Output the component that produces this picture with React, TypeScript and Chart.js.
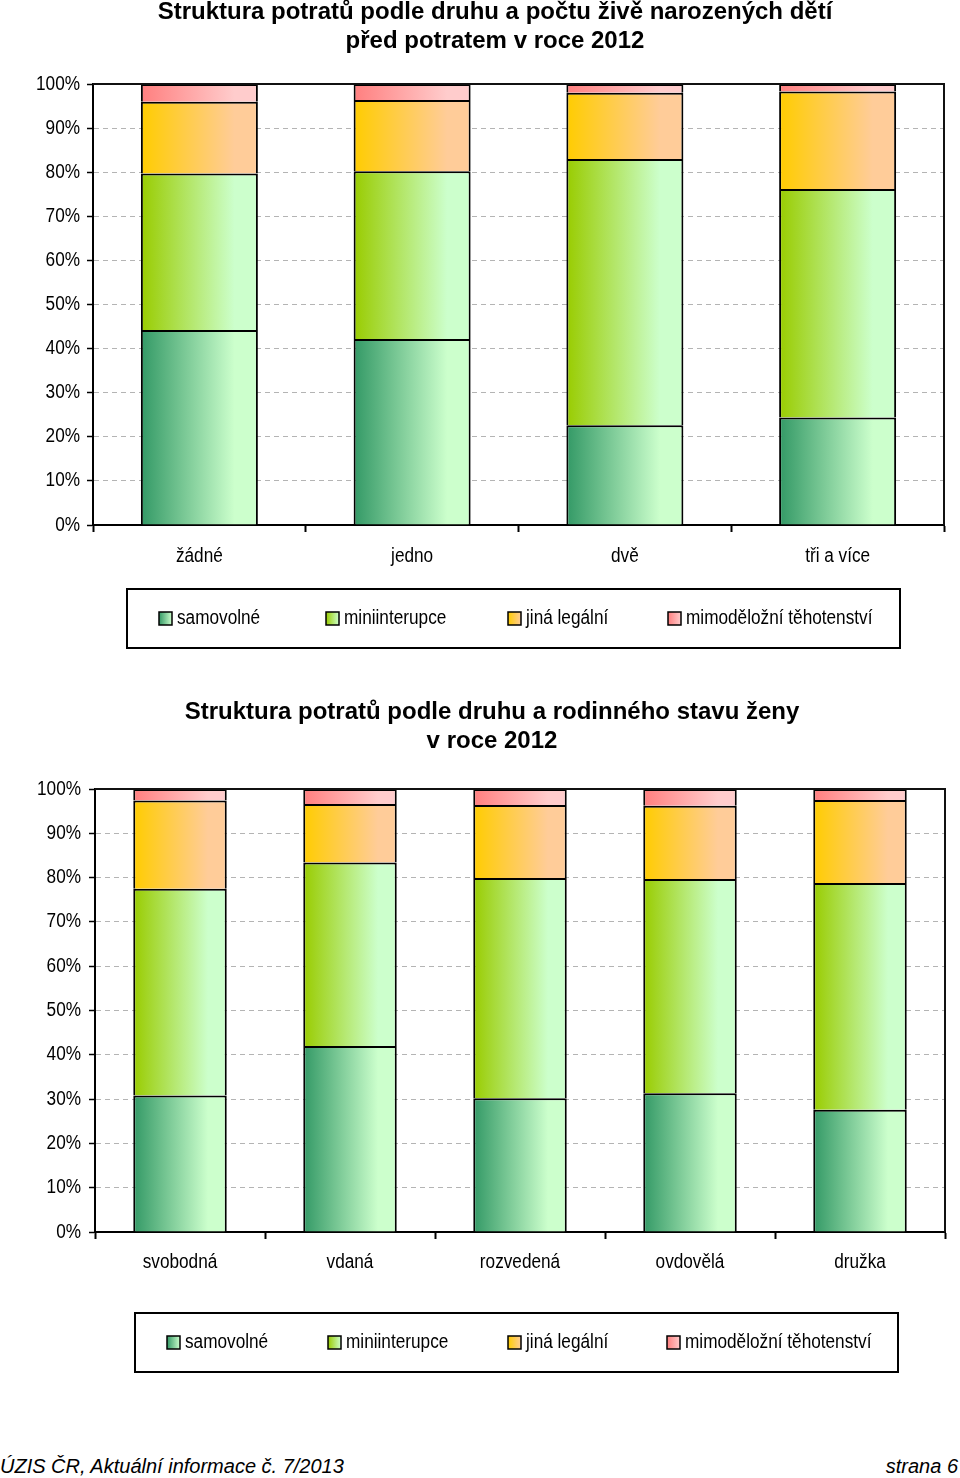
import React, { useEffect, useRef } from 'react';
import { Chart, registerables } from 'chart.js';

Chart.register(...registerables);

const FONT = '"Liberation Sans", Arial, Helvetica, sans-serif';
const LABEL_SIZE = 20;
const NARROW_X = 0.86; // horizontal condensing of label text (Arial Narrow look)

const seriesNames = ['samovolné', 'miniinterupce', 'jiná legální', 'mimoděložní těhotenství'];
const gradientPairs: string[][] = [
  ['#339966', '#ccffcc'],
  ['#99cc00', '#ccffcc'],
  ['#ffcc00', '#ffcc99'],
  ['#ff7f7f', '#ffcccc'],
];

// Chart 1: by number of live-born children
const categories1 = ['žádné', 'jedno', 'dvě', 'tři a více'];
const samovolne1 = [44.2, 42.2, 22.6, 24.4];
const miniinterupce1 = [35.5, 38.0, 60.4, 51.8];
const jinaLegalni1 = [16.3, 16.2, 15.0, 22.1];
const mimodelozni1 = [4.0, 3.6, 2.0, 1.7];

// Chart 2: by marital status
const categories2 = ['svobodná', 'vdaná', 'rozvedená', 'ovdovělá', 'družka'];
const samovolne2 = [30.8, 42.0, 30.2, 31.3, 27.6];
const miniinterupce2 = [46.7, 41.4, 49.7, 48.4, 51.2];
const jinaLegalni2 = [19.9, 13.2, 16.5, 16.5, 18.7];
const mimodelozni2 = [2.6, 3.4, 3.6, 3.8, 2.5];

const yTicks = [0, 10, 20, 30, 40, 50, 60, 70, 80, 90, 100];

const BAR_PCT = 0.55;

function barGradient(pair: string[]) {
  return (ctx: any) => {
    const chart = ctx.chart;
    const xs = chart.scales && chart.scales.x;
    if (!xs || ctx.type !== 'data') return pair[1];
    const n = chart.data.labels.length;
    const center = xs.getPixelForValue(ctx.dataIndex);
    const w = (xs.width / n) * BAR_PCT;
    const x0 = center - w / 2;
    const x1 = center + w / 2;
    if (!Number.isFinite(x0) || !Number.isFinite(x1) || !(w > 0)) return pair[1];
    const g = chart.ctx.createLinearGradient(x0, 0, x1, 0);
    g.addColorStop(0, pair[0]);
    g.addColorStop(0.8, pair[1]);
    g.addColorStop(1, pair[1]);
    return g;
  };
}

type Cfg = {
  height: number;
  labels: string[];
  values: number[][];
  titleLines: string[];
  titleX: number;
  titleY: number[];
  plotTop: number;
  padBottom: number;
  padRight: number;
  yWidth: number;
  yLabelGap: number;
  xLabelGap: number;
  legendBox: number[];
  legendX: number[];
};

function narrowText(c: CanvasRenderingContext2D, text: string, x: number, y: number, align: CanvasTextAlign) {
  c.save();
  c.translate(x, y);
  c.scale(NARROW_X, 1);
  c.textAlign = align;
  c.fillText(text, 0, 0);
  c.restore();
}

function makeDecor(cfg: Cfg) {
  return {
    id: 'decor',
    afterDraw(chart: any) {
      const c = chart.ctx as CanvasRenderingContext2D;
      const a = chart.chartArea;
      const xs = chart.scales.x;
      const ys = chart.scales.y;
      c.save();
      // plot-area frame (top & right)
      c.strokeStyle = '#111';
      c.lineWidth = 2;
      c.beginPath();
      c.moveTo(a.left, a.top);
      c.lineTo(a.right, a.top);
      c.lineTo(a.right, a.bottom);
      c.stroke();

      // axis labels (condensed)
      c.fillStyle = '#000';
      c.font = `${LABEL_SIZE}px ${FONT}`;
      c.textBaseline = 'middle';
      yTicks.forEach((v) => {
        narrowText(c, `${v}%`, a.left - cfg.yLabelGap, ys.getPixelForValue(v), 'right');
      });
      cfg.labels.forEach((lab, i) => {
        narrowText(c, lab, xs.getPixelForValue(i), a.bottom + cfg.xLabelGap, 'center');
      });

      // title
      c.font = `bold 24px ${FONT}`;
      c.textAlign = 'center';
      cfg.titleLines.forEach((t, i) => c.fillText(t, cfg.titleX, cfg.titleY[i]));

      // legend
      const [bx, by, bw, bh] = cfg.legendBox;
      c.lineWidth = 2;
      c.strokeStyle = '#000';
      c.strokeRect(bx, by, bw, bh);
      const cy = by + bh / 2;
      c.font = `${LABEL_SIZE}px ${FONT}`;
      seriesNames.forEach((name, i) => {
        const x = cfg.legendX[i];
        const s = 13;
        const g = c.createLinearGradient(x, 0, x + s, 0);
        g.addColorStop(0, gradientPairs[i][0]);
        g.addColorStop(1, gradientPairs[i][1]);
        c.fillStyle = g;
        c.fillRect(x, cy - s / 2, s, s);
        c.lineWidth = 1.5;
        c.strokeStyle = '#000';
        c.strokeRect(x, cy - s / 2, s, s);
        c.fillStyle = '#000';
        narrowText(c, name, x + 18, cy, 'left');
      });
      c.restore();
    },
  };
}

function StackedChart({ cfg, top }: { cfg: Cfg; top: number }) {
  const ref = useRef<HTMLCanvasElement | null>(null);
  useEffect(() => {
    if (!ref.current) return;
    const chart = new Chart(ref.current, {
      type: 'bar',
      data: {
        labels: cfg.labels,
        datasets: cfg.values.map((v, i) => ({
          label: seriesNames[i],
          data: v,
          backgroundColor: barGradient(gradientPairs[i]) as any,
          borderColor: '#000',
          borderWidth: 2,
          barPercentage: BAR_PCT,
          categoryPercentage: 1,
        })),
      },
      options: {
        responsive: false,
        animation: false,
        layout: { padding: { left: 0, right: cfg.padRight, top: cfg.plotTop, bottom: cfg.padBottom } },
        plugins: {
          legend: { display: false },
          title: { display: false },
          tooltip: { enabled: false },
        },
        scales: {
          x: {
            stacked: true,
            border: { color: '#000', width: 2 },
            grid: {
              display: true,
              drawOnChartArea: false,
              drawTicks: true,
              tickLength: 7,
              tickColor: '#000',
              tickWidth: 2,
              offset: true,
            },
            ticks: { display: false, autoSkip: false },
            afterFit: (s: any) => {
              s.height = 50;
            },
          },
          y: {
            stacked: true,
            min: 0,
            max: 100,
            border: { color: '#000', width: 2, dash: [5, 4] },
            grid: {
              color: (ctx: any) =>
                ctx.tick && (ctx.tick.value === 0 || ctx.tick.value === 100) ? 'rgba(0,0,0,0)' : '#b4b4b4',
              lineWidth: 1,
              tickLength: 6,
              tickColor: '#000',
              tickWidth: 1.5,
              tickBorderDash: [],
            },
            afterBuildTicks: (s: any) => {
              s.ticks = yTicks.map((v) => ({ value: v }));
            },
            ticks: { display: false },
            afterFit: (s: any) => {
              s.width = cfg.yWidth;
            },
          },
        },
      } as any,
      plugins: [makeDecor(cfg)],
    });
    return () => chart.destroy();
  }, []);
  return (
    <canvas
      ref={ref}
      width={960}
      height={cfg.height}
      style={{ position: 'absolute', left: 0, top, display: 'block' }}
    />
  );
}

const cfg1: Cfg = {
  height: 660,
  labels: categories1,
  values: [samovolne1, miniinterupce1, jinaLegalni1, mimodelozni1],
  titleLines: ['Struktura potratů podle druhu a počtu živě narozených dětí', 'před potratem v roce 2012'],
  titleX: 495,
  titleY: [12, 41],
  plotTop: 84,
  padBottom: 660 - 525 - 50,
  padRight: 16,
  yWidth: 93,
  yLabelGap: 13,
  xLabelGap: 31,
  legendBox: [127, 589, 773, 59],
  legendX: [159, 326, 508, 668],
};

const cfg2: Cfg = {
  height: 720,
  labels: categories2,
  values: [samovolne2, miniinterupce2, jinaLegalni2, mimodelozni2],
  titleLines: ['Struktura potratů podle druhu a rodinného stavu ženy', 'v roce 2012'],
  titleX: 492,
  titleY: [32, 61],
  plotTop: 109,
  padBottom: 720 - 552 - 50,
  padRight: 15,
  yWidth: 95,
  yLabelGap: 14,
  xLabelGap: 30,
  legendBox: [135, 633, 763, 59],
  legendX: [167, 328, 508, 667],
};

export default function App() {
  const footStyle: React.CSSProperties = {
    position: 'absolute',
    top: 1455,
    fontFamily: FONT,
    fontStyle: 'italic',
    fontSize: 20,
    lineHeight: '22px',
    color: '#000',
    whiteSpace: 'nowrap',
  };
  return (
    <div style={{ position: 'absolute', left: 0, top: 0, width: 960, height: 1478, background: '#fff', overflow: 'hidden' }}>
      <StackedChart cfg={cfg1} top={0} />
      <StackedChart cfg={cfg2} top={680} />
      <div style={{ ...footStyle, left: 0 }}>ÚZIS ČR, Aktuální informace č. 7/2013</div>
      <div style={{ ...footStyle, right: 2 }}>strana 6</div>
    </div>
  );
}
